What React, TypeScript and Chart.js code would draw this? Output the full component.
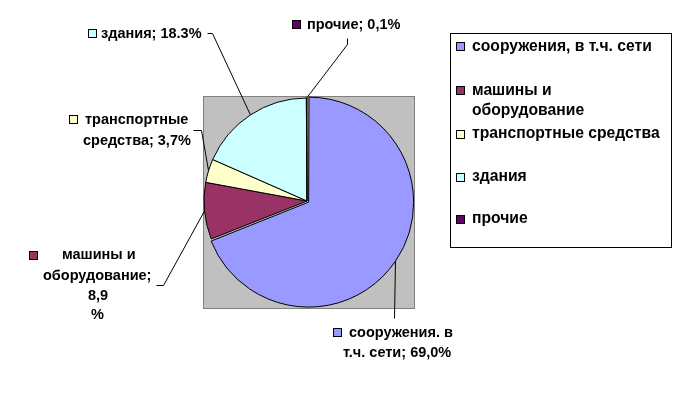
import React, { useEffect, useRef } from "react";
import { Chart, registerables } from "chart.js";

Chart.register(...registerables);

// ---- data ----
const categories = [
  "сооружения, в т.ч. сети",
  "машины и оборудование",
  "транспортные средства",
  "здания",
  "прочие",
];
const shares = [69.0, 8.9, 3.7, 18.3, 0.1];
const sliceColors = ["#9999FF", "#993366", "#FFFFCC", "#CCFFFF", "#660066"];
const explodeOpt = [8, 0, 0, 0, 0];
const legendLines = [
  ["сооружения, в т.ч. сети"],
  ["машины и", "оборудование"],
  ["транспортные средства"],
  ["здания"],
  ["прочие"],
];
const labelLines = [
  ["сооружения. в", "т.ч. сети; 69,0%"],
  ["машины и", "оборудование;", "8,9", "%"],
  ["транспортные", "средства; 3,7%"],
  ["здания; 18.3%"],
  ["прочие; 0,1%"],
];

const LABEL_FONT = "bold 14.5px 'Liberation Sans', Arial, sans-serif";
const LEGEND_FONT = "bold 15.7px 'Liberation Sans', Arial, sans-serif";

// label layout: square position, text line positions, leader elbow points
const labelLayout = [
  { sq: [333, 328], lines: [[349, 333], [343, 353]], leader: [[394, 318]] },
  { sq: [29, 251], lines: [[62, 255], [43, 276], [88, 296], [91, 315]], leader: [[156, 285], [163, 285]] },
  { sq: [69, 115], lines: [[85, 120], [83, 141]], leader: [[193, 130], [201, 130]] },
  { sq: [88, 29], lines: [[101, 34]], leader: [[207, 33], [212, 33]] },
  { sq: [292, 20], lines: [[307, 25]], leader: [[347, 38], [347, 44]] },
];
const legendRows = [
  { sq: 42, lines: [47] },
  { sq: 86, lines: [91, 111] },
  { sq: 130, lines: [134] },
  { sq: 173, lines: [177] },
  { sq: 215, lines: [219] },
];

const decorPlugin = {
  id: "decor",
  beforeDatasetsDraw(chart: any) {
    const ctx = chart.ctx;
    const arc = chart.getDatasetMeta(0).data[0];
    const cx = arc.x;
    const cy = arc.y;
    const r = arc.outerRadius;
    ctx.save();
    ctx.fillStyle = "#C0C0C0";
    ctx.strokeStyle = "#808080";
    ctx.lineWidth = 1;
    const x0 = Math.round(cx - r - 1) + 0.5;
    const y0 = Math.round(cy - r - 2) + 0.5;
    const x1 = Math.round(cx + r + 4) + 0.5;
    const y1 = Math.round(cy + r + 4) + 0.5;
    ctx.fillRect(x0, y0, x1 - x0, y1 - y0);
    ctx.strokeRect(x0, y0, x1 - x0, y1 - y0);
    ctx.restore();
  },
  afterDatasetsDraw(chart: any) {
    const ctx = chart.ctx;
    const meta = chart.getDatasetMeta(0);
    ctx.save();
    ctx.font = LABEL_FONT;
    ctx.textBaseline = "middle";
    ctx.textAlign = "left";
    // data labels with leader lines
    meta.data.forEach((el: any, i: number) => {
      const p = el.getProps(["x", "y", "startAngle", "endAngle", "outerRadius", "circumference"], true);
      const mid = (p.startAngle + p.endAngle) / 2;
      // same geometry Chart.js uses when drawing an offset arc
      const off = explodeOpt[i] / 4;
      const fix = 1 - Math.sin(Math.min(Math.PI, p.circumference || 0));
      const rr = p.outerRadius + off * fix + off;
      const ex = p.x + Math.cos(mid) * rr;
      const ey = p.y + Math.sin(mid) * rr;
      const L = labelLayout[i];
      ctx.strokeStyle = "#000";
      ctx.lineWidth = 1;
      ctx.beginPath();
      L.leader.forEach((pt, k) => {
        if (k === 0) ctx.moveTo(pt[0] + 0.5, pt[1] + 0.5);
        else ctx.lineTo(pt[0] + 0.5, pt[1] + 0.5);
      });
      ctx.lineTo(ex, ey);
      ctx.stroke();
      ctx.fillStyle = sliceColors[i];
      ctx.fillRect(L.sq[0] + 0.5, L.sq[1] + 0.5, 8, 8);
      ctx.strokeRect(L.sq[0] + 0.5, L.sq[1] + 0.5, 8, 8);
      ctx.fillStyle = "#000";
      labelLines[i].forEach((t, k) => {
        ctx.fillText(t, L.lines[k][0], L.lines[k][1]);
      });
    });
    // legend
    ctx.font = LEGEND_FONT;
    ctx.strokeStyle = "#000";
    ctx.strokeRect(450.5, 33.5, 221, 214);
    categories.forEach((_, i) => {
      const row = legendRows[i];
      ctx.fillStyle = sliceColors[i];
      ctx.fillRect(456.5, row.sq + 0.5, 8, 8);
      ctx.strokeRect(456.5, row.sq + 0.5, 8, 8);
      ctx.fillStyle = "#000";
      legendLines[i].forEach((t, k) => ctx.fillText(t, 472, row.lines[k]));
    });
    ctx.restore();
  },
};

export default function App() {
  const ref = useRef<HTMLCanvasElement>(null);
  useEffect(() => {
    if (!ref.current) return;
    const chart = new Chart(ref.current, {
      type: "pie",
      data: {
        labels: categories,
        datasets: [
          {
            data: shares,
            backgroundColor: sliceColors,
            borderColor: "#000000",
            borderWidth: 1,
            offset: explodeOpt,
          },
        ],
      },
      options: {
        animation: false,
        responsive: false,
        radius: 103,
        layout: { padding: { left: 199, right: 266, top: 93, bottom: 97 } },
        plugins: {
          legend: { display: false },
          tooltip: { enabled: false },
        },
      } as any,
      plugins: [decorPlugin],
    });
    return () => chart.destroy();
  }, []);
  return (
    <div style={{ position: "absolute", left: 0, top: 0, width: 681, height: 406, background: "#fff" }}>
      <canvas ref={ref} width={681} height={406} style={{ display: "block" }} />
    </div>
  );
}
